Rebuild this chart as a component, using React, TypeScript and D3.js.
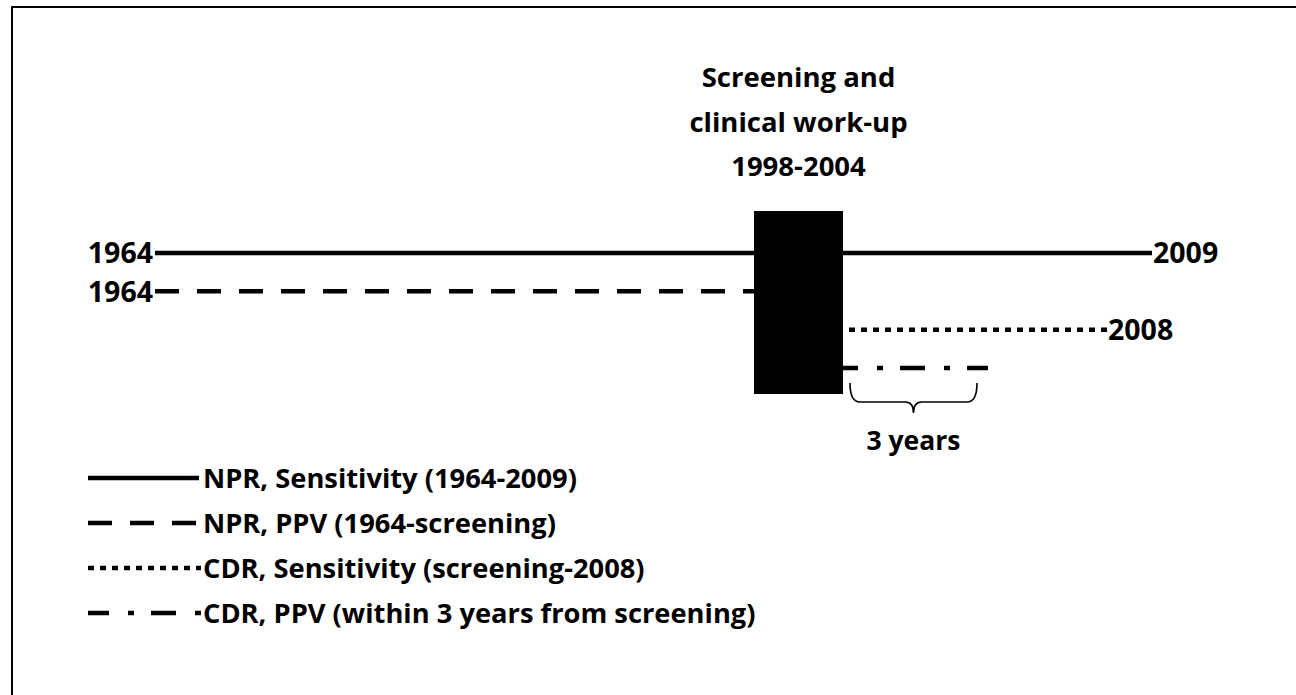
import React, { useRef, useEffect } from "react";
import * as d3 from "d3";

// timeline data
const seriesNames = [
  "NPR, Sensitivity (1964-2009)",
  "NPR, PPV (1964-screening)",
  "CDR, Sensitivity (screening-2008)",
  "CDR, PPV (within 3 years from screening)",
];
const seriesStart = [1964, 1964, 2004, 2004];
const seriesEnd = [2009, 1998, 2008, 2007];
const startLabels = ["1964", "1964", "", ""];
const endLabels = ["2009", "", "2008", ""];
const screening = [1998, 2004];
const titleLines = ["Screening and", "clinical work-up", "1998-2004"];
const braceYears = [2004, 2007];
const braceLabel = "3 years";

// the time axis is not linear in the original drawing, so a piecewise scale
const yearTicks = [1964, 1998, 2004, 2007, 2008, 2009];
const yearPx = [155, 754, 843, 988, 1107, 1152];

const dashStyles = ["none", "24 18", "6 6", "25 19 6 17"];
const dashOffsets = [0, 0, 6, 10];
const legendOffsets = [0, 0, 0, 4];

const FONT = "'Open Sans', 'Noto Sans', sans-serif";

const App = () => {
  const svgRef = useRef(null);

  useEffect(() => {
    const svg = d3.select(svgRef.current);
    svg.selectAll("*").remove();

    const x = d3.scaleLinear().domain(yearTicks).range(yearPx);
    const y = d3.scalePoint().domain(seriesNames).range([253, 368]);
    const yLegend = d3.scalePoint().domain(seriesNames).range([478, 613]);

    // frame (only the top and left sides are inside the picture)
    svg
      .append("rect")
      .attr("x", 12)
      .attr("y", 7)
      .attr("width", 1400)
      .attr("height", 800)
      .attr("fill", "none")
      .attr("stroke", "#000")
      .attr("stroke-width", 2);

    const rows = seriesNames.map((name, i) => ({
      name,
      start: seriesStart[i],
      end: seriesEnd[i],
      startLabel: startLabels[i],
      endLabel: endLabels[i],
      dash: dashStyles[i],
      offset: dashOffsets[i],
    }));

    // timeline lines
    svg
      .append("g")
      .selectAll("line")
      .data(rows)
      .join("line")
      .attr("x1", (d) => x(d.start))
      .attr("x2", (d) => x(d.end))
      .attr("y1", (d) => y(d.name))
      .attr("y2", (d) => y(d.name))
      .attr("stroke", "#000")
      .attr("stroke-width", 4.5)
      .attr("stroke-dasharray", (d) => d.dash)
      .attr("stroke-dashoffset", (d) => d.offset);

    // screening box
    svg
      .append("rect")
      .attr("x", x(screening[0]))
      .attr("y", y(seriesNames[0]) - 42)
      .attr("width", x(screening[1]) - x(screening[0]))
      .attr("height", y(seriesNames[3]) + 26 - (y(seriesNames[0]) - 42))
      .attr("fill", "#000");

    // title above the box
    const cx = (x(screening[0]) + x(screening[1])) / 2;
    svg
      .append("g")
      .selectAll("text")
      .data(titleLines)
      .join("text")
      .attr("x", cx)
      .attr("y", (d, i) => 87 + i * 44.5)
      .attr("text-anchor", "middle")
      .style("font-family", FONT)
      .style("font-weight", "bold")
      .style("font-size", "27.5px")
      .text((d) => d);

    // year labels
    svg
      .append("g")
      .selectAll("text")
      .data(rows.filter((d) => d.startLabel))
      .join("text")
      .attr("x", (d) => x(d.start) - 2)
      .attr("y", (d) => y(d.name))
      .attr("dy", "0.36em")
      .attr("text-anchor", "end")
      .style("font-family", FONT)
      .style("font-weight", "bold")
      .style("font-size", "28.5px")
      .text((d) => d.startLabel);

    svg
      .append("g")
      .selectAll("text")
      .data(rows.filter((d) => d.endLabel))
      .join("text")
      .attr("x", (d) => x(d.end) + 1)
      .attr("y", (d) => y(d.name))
      .attr("dy", "0.36em")
      .style("font-family", FONT)
      .style("font-weight", "bold")
      .style("font-size", "28.5px")
      .text((d) => d.endLabel);

    // brace under the 3 year window
    const b0 = x(braceYears[0]) + 7;
    const b1 = x(braceYears[1]) - 11;
    const bm = (b0 + b1) / 2;
    const top = 383,
      mid = 402,
      tip = 413;
    const brace = d3.path();
    brace.moveTo(b0, top);
    brace.quadraticCurveTo(b0, mid, b0 + 10, mid);
    brace.lineTo(bm - 8, mid);
    brace.quadraticCurveTo(bm, mid, bm, tip);
    brace.quadraticCurveTo(bm, mid, bm + 8, mid);
    brace.lineTo(b1 - 10, mid);
    brace.quadraticCurveTo(b1, mid, b1, top);
    svg
      .append("path")
      .attr("d", brace.toString())
      .attr("fill", "none")
      .attr("stroke", "#000")
      .attr("stroke-width", 1.6);

    svg
      .append("text")
      .attr("x", bm)
      .attr("y", 450)
      .attr("text-anchor", "middle")
      .style("font-family", FONT)
      .style("font-weight", "bold")
      .style("font-size", "26.5px")
      .text(braceLabel);

    // legend
    const legend = svg
      .append("g")
      .selectAll("g")
      .data(rows)
      .join("g")
      .attr("transform", (d) => `translate(88, ${yLegend(d.name)})`);

    legend
      .append("line")
      .attr("x1", 0)
      .attr("x2", (d, i) => (i === 0 ? 111 : 113))
      .attr("stroke", "#000")
      .attr("stroke-width", 4.5)
      .attr("stroke-dasharray", (d) => d.dash)
      .attr("stroke-dashoffset", (d, i) => legendOffsets[i]);

    legend
      .append("text")
      .attr("x", 115)
      .attr("dy", "0.36em")
      .style("font-family", FONT)
      .style("font-weight", "bold")
      .style("font-size", "27.3px")
      .text((d) => d.name);
  }, []);

  return (
    <div style={{ position: "absolute", left: 0, top: 0, width: 1296, height: 695, overflow: "hidden", background: "#fff" }}>
      <svg ref={svgRef} width={1296} height={695} style={{ display: "block" }}></svg>
    </div>
  );
};

export default App;
